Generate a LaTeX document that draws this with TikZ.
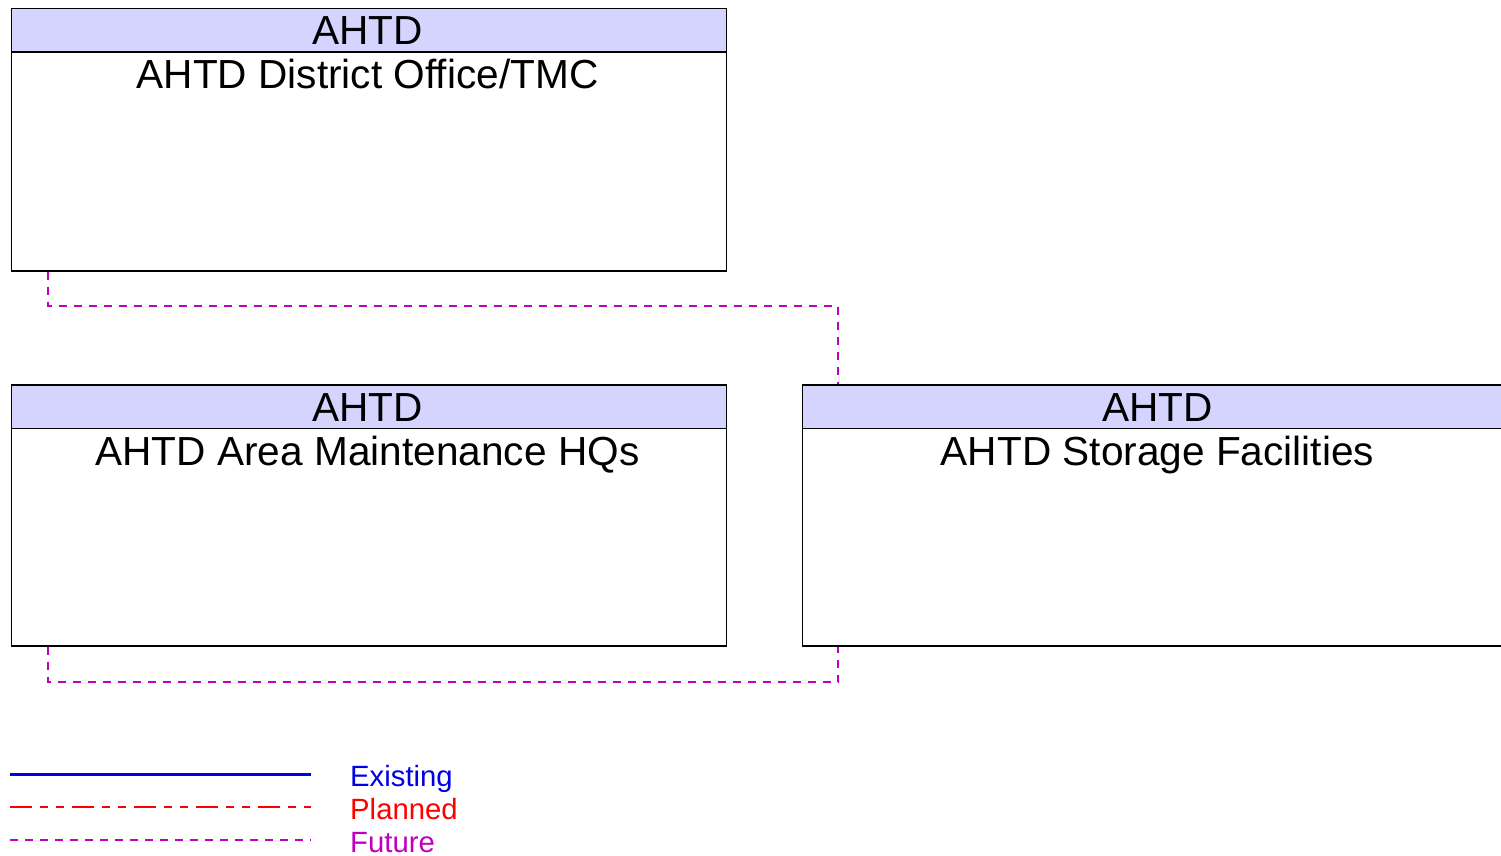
\documentclass[tikz,border=0pt]{standalone}
\usepackage{fontspec}
\setmainfont{Liberation Sans}
\usetikzlibrary{calc}
\definecolor{hdrfill}{RGB}{212,212,255}
\definecolor{futcol}{RGB}{192,0,192}
\definecolor{plancol}{RGB}{255,0,0}
\definecolor{excol}{RGB}{0,0,230}
\tikzset{
  box/.style={draw=black, line width=1.5pt, fill=white, rectangle, inner sep=0pt, anchor=north west},
  hdr/.style={draw=black, line width=1.5pt, fill=hdrfill, rectangle, inner sep=0pt, anchor=north west, minimum height=43.5pt},
  big/.style={font=\fontsize{40.6}{48}\selectfont, anchor=base, inner sep=0pt},
  leg/.style={font=\fontsize{29.3}{34}\selectfont, anchor=base west, inner sep=0pt},
  fut/.style={draw=futcol, line width=2pt, dash pattern=on 8pt off 7pt},
  plan/.style={draw=plancol, line width=1.6pt, dash pattern=on 22pt off 8pt on 8pt off 8pt on 8pt off 8pt},
  exist/.style={draw=excol, line width=3pt},
}
\begin{document}
\begin{tikzpicture}[x=1pt,y=-1pt]
\useasboundingbox (0,0) rectangle (1501,856);
% boxes
\node[box, minimum width=715pt, minimum height=262pt] (dist) at (10.5,8) {};
\node[hdr, minimum width=715pt] (disth) at (10.5,8) {};
\node[big] (distt) at (367.5,45) {AHTD};
\node[big] (distn) at (367.5,89) {AHTD District Office/TMC};

\node[box, minimum width=715pt, minimum height=261pt] (maint) at (10.5,384) {};
\node[hdr, minimum width=715pt] (mainth) at (10.5,384) {};
\node[big] (maintt) at (367.5,421) {AHTD};
\node[big] (maintn) at (367.5,465) {AHTD Area Maintenance HQs};

\node[box, minimum width=712pt, minimum height=261pt] (stor) at (801.5,384) {};
\node[hdr, minimum width=712pt] (storh) at (801.5,384) {};
\node[big] (stort) at (1157.5,421) {AHTD};
\node[big] (storn) at (1157.5,465) {AHTD Storage Facilities};

% connector end points on the boxes
\coordinate (c1a) at ($(dist.south west)+(37.5,0)$);
\coordinate (c1b) at ($(stor.north west)+(36.5,0)$);
\coordinate (c2a) at ($(maint.south west)+(37.5,0)$);
\coordinate (c2b) at ($(stor.south west)+(36.5,0)$);
% connectors
\draw[fut] (c1a) -- (c1a |- 0,306) -- (c1b |- 0,306) -- (c1b);
\draw[fut] (c2a) -- (c2a |- 0,682) -- (c2b |- 0,682) -- (c2b);

% legend
\coordinate (l1a) at (10,774); \coordinate (l1b) at (311,774);
\coordinate (l2a) at (10,807); \coordinate (l2b) at (311,807);
\coordinate (l3a) at (10,840); \coordinate (l3b) at (311,840);
\draw[exist] (l1a) -- (l1b);
\draw[plan] (l2a) -- (l2b);
\draw[fut] (l3a) -- (l3b);
\node[leg, text=excol] (lex) at (350,786) {Existing};
\node[leg, text=plancol] (lpl) at (350,819) {Planned};
\node[leg, text=futcol] (lfu) at (350,852) {Future};
\end{tikzpicture}
\end{document}
